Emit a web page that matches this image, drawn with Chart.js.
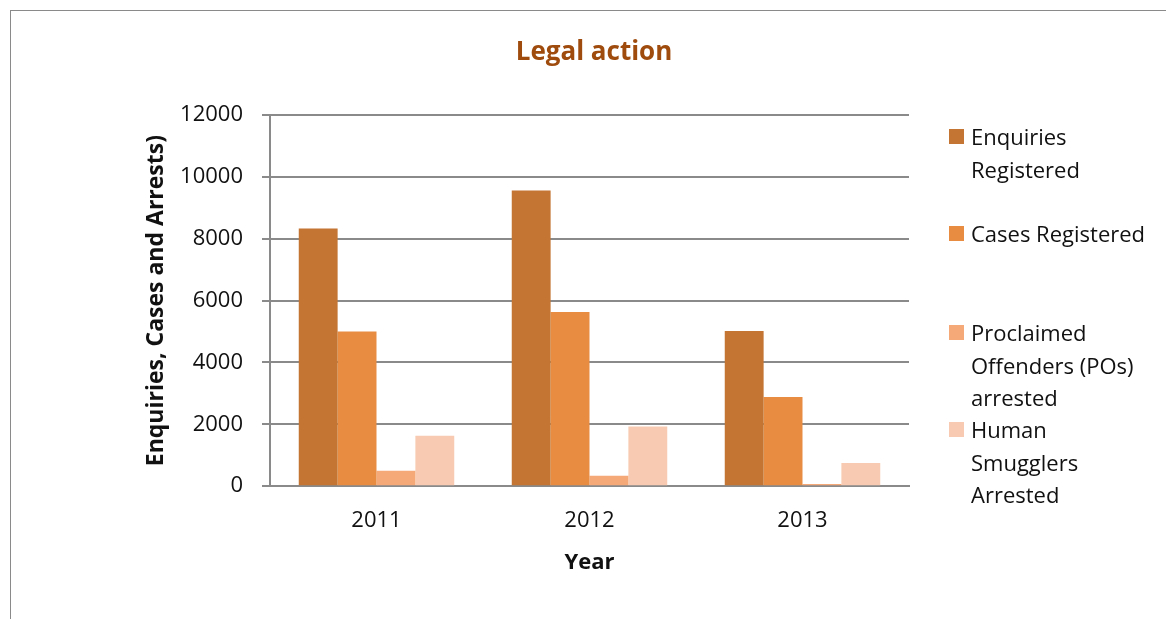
<!DOCTYPE html>
<html>
<head>
<meta charset="utf-8">
<script src="https://cdn.jsdelivr.net/npm/chart.js@4.4.0/dist/chart.umd.min.js"></script>
<style>
  html, body { margin: 0; padding: 0; background: #fff; overflow: hidden; }
  #wrap { position: relative; width: 1166px; height: 619px; }
  #frame { position: absolute; left: 10px; top: 10px; width: 1170px; height: 620px; border: 1px solid #8a8a8a; box-sizing: border-box; }
  canvas { position: absolute; left: 0; top: 0; }
  #title { position: absolute; left: 394px; width: 400px; top: 32px; text-align: center; font-family: "Open Sans", sans-serif; font-weight: bold; font-size: 26px; line-height: 36px; color: #9E4B0D; }
  .leg { position: absolute; left: 949px; font-family: "Open Sans", sans-serif; font-size: 22px; line-height: 32.5px; color: #111; }
  .leg .sw { position: absolute; left: 0; top: 9px; width: 15px; height: 15px; }
  .leg .tx { position: absolute; left: 22px; top: 0; width: 220px; white-space: nowrap; }
</style>
</head>
<body>
<div id="wrap">
  <div id="frame"></div>
  <canvas id="chart" width="1166" height="619"></canvas>
  <div id="title">Legal action</div>
  <div id="legend"></div>
</div>
<script>
const years = ['2011', '2012', '2013'];
const seriesNames = ['Enquiries Registered', 'Cases Registered', 'Proclaimed Offenders (POs) arrested', 'Human Smugglers Arrested'];
const enquiries = [8330, 9560, 5020];
const cases = [5000, 5630, 2880];
const posArrested = [500, 340, 70];
const smugglers = [1630, 1930, 750];
const yTicks = [0, 2000, 4000, 6000, 8000, 10000, 12000];

const colors = ['#C47533', '#E88C42', '#F5A878', '#F8CAB2'];
const values = [enquiries, cases, posArrested, smugglers];

// legend text wrapped like the original, placed by hand on the right
const legendLines = [
  ['Enquiries', 'Registered'],
  ['Cases Registered'],
  ['Proclaimed', 'Offenders (POs)', 'arrested'],
  ['Human', 'Smugglers', 'Arrested']
];
const legendTops = [120, 217, 316, 413];

const legend = document.getElementById('legend');
seriesNames.forEach((name, i) => {
  const item = document.createElement('div');
  item.className = 'leg';
  item.style.top = legendTops[i] + 'px';
  item.innerHTML = `<div class="sw" style="background:${colors[i]}"></div><div class="tx">${legendLines[i].join('<br>')}</div>`;
  legend.appendChild(item);
});

const ctx = document.getElementById('chart').getContext('2d');
new Chart(ctx, {
  type: 'bar',
  data: {
    labels: years,
    datasets: seriesNames.map((name, i) => ({
      label: name,
      data: values[i],
      backgroundColor: colors[i],
      borderWidth: 0,
      barPercentage: 1.0,
      categoryPercentage: 0.73
    }))
  },
  options: {
    responsive: false,
    animation: false,
    devicePixelRatio: 1,
    layout: { padding: { left: 140, right: 257, top: 115, bottom: 43 } },
    plugins: {
      legend: { display: false },
      tooltip: { enabled: false },
      title: { display: false }
    },
    scales: {
      x: {
        grid: { display: false },
        border: { display: true, color: '#8a8a8a', width: 2 },
        ticks: { color: '#111', font: { family: 'Open Sans', size: 22 }, padding: 13 },
        title: { display: true, text: 'Year', color: '#111', font: { family: 'Open Sans', size: 22, weight: 'bold' }, padding: { top: 3, bottom: 0 } }
      },
      y: {
        min: 0,
        max: 12000,
        afterBuildTicks: axis => { axis.ticks = yTicks.map(v => ({ value: v })); },
        afterFit: axis => { axis.width = 130; },
        grid: { color: '#8a8a8a', lineWidth: 2, tickLength: 8 },
        border: { display: true, color: '#8a8a8a', width: 2 },
        ticks: { color: '#111', font: { family: 'Open Sans', size: 22 }, padding: 19, callback: v => String(v) },
        title: { display: true, text: 'Enquiries, Cases and Arrests)', color: '#111', font: { family: 'Open Sans', size: 23, weight: 'bold' }, padding: { top: 3, bottom: 0 } }
      }
    }
  }
});
</script>
</body>
</html>
